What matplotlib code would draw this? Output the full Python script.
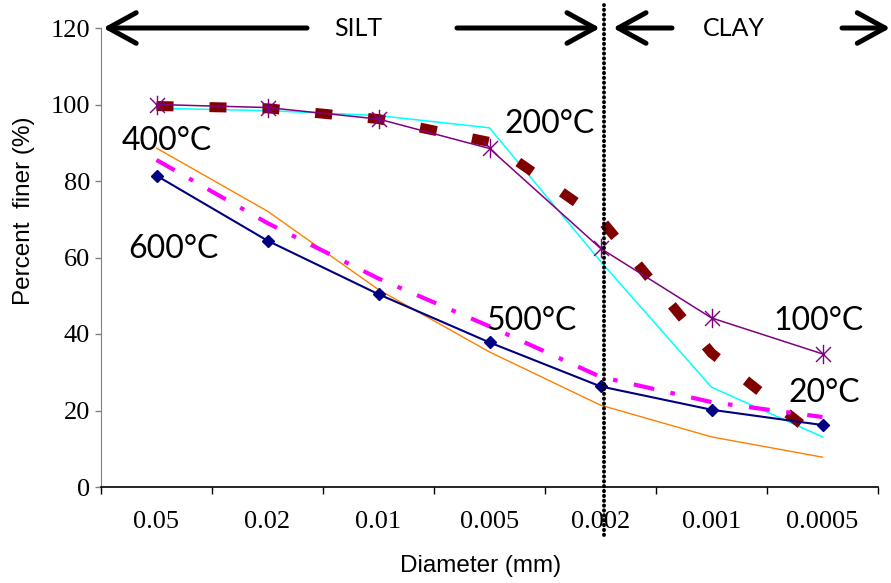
import numpy as np
import matplotlib
matplotlib.use('Agg')
import matplotlib.pyplot as plt
from matplotlib.path import Path

# Dati: diametro (mm) e percentuale passante per temperatura
diametri = ['0.05', '0.02', '0.01', '0.005', '0.002', '0.001', '0.0005']

t20 = [99.0, 98.4, 97.1, 93.9, 59.0, 26.1, 13.1]     # ciano
t100 = [100.0, 99.2, 96.2, 88.5, 62.4, 44.2, 34.8]   # viola, asterischi
t200 = [99.6, 99.0, 96.2, 90.2, 70.0, 35.0, 12.0]    # marrone tratteggiato
t400 = [88.6, 72.1, 51.6, 35.3, 21.4, 13.1, 7.8]     # arancione
t500 = [85.5, 69.0, 54.5, 42.0, 28.8, 22.2, 18.3]    # magenta tratto-punto
t600 = [81.4, 64.4, 50.4, 37.8, 26.3, 20.2, 16.2]    # blu, rombi

etichette = ['400°C', '600°C', '200°C', '500°C', '100°C', '20°C']
etichette_xy = [(0.09, 88.1), (0.15, 59.9), (3.54, 92.5), (3.38, 41.0), (5.96, 41.0), (6.02, 22.2)]

x = np.arange(len(diametri))

# marker a stella stile Excel (x + linea verticale)
stella = Path([(-1, -1), (1, 1), (-1, 1), (1, -1), (0, -1.3), (0, 1.3)],
              [Path.MOVETO, Path.LINETO, Path.MOVETO, Path.LINETO, Path.MOVETO, Path.LINETO])

fig = plt.figure(figsize=(8.91, 5.83), dpi=100)
ax = fig.add_axes([101/891, 1 - 487/583, 777/891, 459/583])

ax.plot(x, t400, color='#FF7F00', linewidth=1.0)
ax.plot(x, t20, color='#00FFFF', linewidth=1.1)
ax.plot(x, t200, color='#800000', linewidth=7.2, linestyle=(0, (1.7, 3.6)), dash_capstyle='butt')
ax.plot(x, t100, color='#800080', linewidth=1.1, marker=stella, markersize=14,
        markeredgewidth=1.0, markerfacecolor='none', markeredgecolor='#800080')
ax.plot(x, t500, color='#FF00FF', linewidth=3.0, linestyle=(0, (5.0, 4.0, 1.1, 4.0)), dash_capstyle='butt')
ax.plot(x, t600, color='#000080', linewidth=1.5, marker='D', markersize=6.5)

# assi
ax.set_xlim(-0.5, len(diametri) - 0.5)
ax.set_ylim(0, 120)
ax.set_yticks(np.arange(0, 121, 20))
ax.set_xticks(np.arange(-0.5, len(diametri), 1.0))
ax.set_xticklabels([])
ax.set_xticks(x, minor=True)
ax.set_xticklabels(diametri, minor=True)
ax.tick_params(axis='x', which='major', direction='out', length=5, width=1, color='black')
ax.tick_params(axis='x', which='minor', length=0, pad=17)
ax.tick_params(axis='y', direction='out', length=4, width=1, color='#808080', pad=4)
for lab in ax.get_xticklabels(minor=True) + ax.get_yticklabels():
    lab.set_fontfamily('Liberation Serif')
    lab.set_fontsize(19)

ax.spines['top'].set_visible(False)
ax.spines['right'].set_visible(False)
ax.spines['left'].set_color('#808080')
ax.spines['bottom'].set_color('black')
ax.spines['bottom'].set_linewidth(1.2)

fig.text(24/891, 1 - 211/583, 'Percent  finer (%)', rotation=90, ha='center', va='center',
         fontsize=17.5, family='Liberation Sans')
fig.text(481/891, 1 - 566/583, 'Diameter (mm)', ha='center', va='center',
         fontsize=17.5, family='Liberation Sans')

# etichette delle curve
for testo, (tx, ty) in zip(etichette, etichette_xy):
    ax.text(tx, ty, testo, ha='center', va='baseline', fontsize=23, family='Lato')

# linea di separazione limo / argilla
confine = 4.036
ax.plot([confine, confine], [-0.105, 1.05], transform=ax.get_xaxis_transform(), clip_on=False,
        color='black', linewidth=2.8, linestyle=(0, (0.1, 1.15)), dash_capstyle='round', zorder=5)

# frecce SILT / CLAY
stile = dict(arrowstyle='->, head_length=1.0, head_width=0.55', lw=3.6, color='black',
             mutation_scale=20, capstyle='round', joinstyle='round', shrinkA=0, shrinkB=0)
frecce = [((-0.48, 120), (1.356, 120)), ((3.995, 120), (2.707, 120)),
          ((4.113, 120), (4.644, 120)), ((6.61, 120), (6.176, 120))]
for testa, coda in frecce:
    ax.annotate('', xy=testa, xytext=coda, arrowprops=stile, annotation_clip=False)
ax.text(1.815, 120, 'SILT', ha='center', va='center', fontsize=18, family='Lato')
ax.text(5.20, 120, 'CLAY', ha='center', va='center', fontsize=18, family='Lato')

plt.savefig('out.png', dpi=100)
